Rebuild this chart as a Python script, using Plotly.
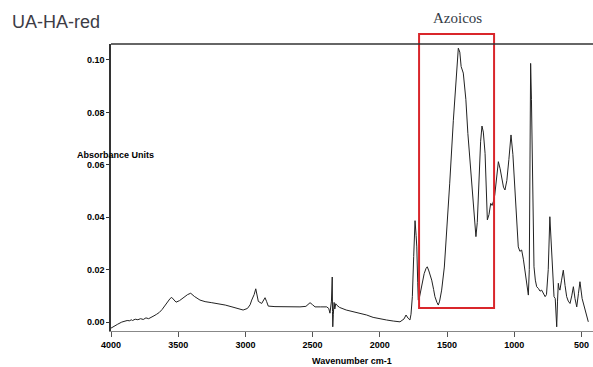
import plotly.graph_objects as go

wavenumber = [4000, 3980, 3950, 3920, 3900, 3880, 3860, 3850, 3840, 3820, 3800, 3780, 3760, 3740, 3720, 3700,
              3680, 3660, 3640, 3620, 3600, 3580, 3560, 3548, 3530, 3516, 3490, 3460, 3430, 3407, 3380, 3338,
              3300, 3250, 3214, 3150, 3100, 3050, 3017, 2985, 2965, 2953, 2935, 2923, 2912, 2904, 2879, 2866,
              2854, 2842, 2830, 2780, 2700, 2650, 2594, 2550, 2519, 2500, 2482, 2440, 2395, 2380, 2371, 2360,
              2354, 2352, 2350, 2346, 2340, 2335, 2328, 2321, 2300, 2250, 2200, 2150, 2098, 2050, 2000, 1950,
              1900, 1870, 1850, 1820, 1805, 1790, 1776, 1768, 1758, 1748, 1738, 1730, 1725, 1718, 1714, 1705,
              1689, 1670, 1656, 1647, 1635, 1614, 1600, 1590, 1575, 1565, 1555, 1540, 1520, 1502, 1480, 1453,
              1435, 1422, 1416, 1405, 1395, 1379, 1360, 1345, 1329, 1310, 1295, 1285, 1275, 1262, 1250, 1240,
              1230, 1217, 1208, 1200, 1188, 1175, 1165, 1155, 1145, 1138, 1128, 1118, 1105, 1093, 1080, 1069,
              1055, 1040, 1024, 1010, 994, 982, 970, 958, 945, 932, 920, 905, 895, 888, 882, 878, 872, 866,
              860, 853, 843, 833, 820, 808, 796, 784, 770, 760, 747, 735, 725, 717, 712, 704, 695, 684, 678,
              672, 667, 660, 648, 635, 622, 610, 598, 585, 572, 560, 548, 535, 522, 511, 495, 474, 462, 449,
              435, 416]
absorbance = [-0.0023, -0.0016, -0.0008, 0.0000, 0.0003, 0.0006, 0.0005, 0.0009, 0.0006, 0.0011, 0.0009,
              0.0013, 0.0010, 0.0016, 0.0013, 0.0020, 0.0024, 0.0030, 0.0037, 0.0048, 0.0063, 0.0080, 0.0090,
              0.0094, 0.0084, 0.0076, 0.0082, 0.0095, 0.0105, 0.0110, 0.0098, 0.0084, 0.0078, 0.0074, 0.0071,
              0.0065, 0.0058, 0.0051, 0.0046, 0.0052, 0.0066, 0.0084, 0.0105, 0.0127, 0.0102, 0.0079, 0.0071,
              0.0080, 0.0093, 0.0078, 0.0061, 0.0059, 0.0058, 0.0058, 0.0058, 0.0060, 0.0074, 0.0066, 0.0058,
              0.0058, 0.0058, 0.0052, 0.0034, 0.0080, 0.0172, 0.0040, -0.0018, 0.0030, 0.0075, 0.0050, 0.0070,
              0.0065, 0.0056, 0.0046, 0.0040, 0.0032, 0.0027, 0.0018, 0.0012, 0.0008, 0.0004, 0.0002, 0.0001,
              0.0012, 0.0027, 0.0015, 0.0008, 0.0030, 0.0097, 0.0250, 0.0387, 0.0330, 0.0287, 0.0150, 0.0084,
              0.0095, 0.0135, 0.0185, 0.0205, 0.0211, 0.0195, 0.0160, 0.0125, 0.0097, 0.0075, 0.0065, 0.0080,
              0.0122, 0.0210, 0.0338, 0.0530, 0.0770, 0.0920, 0.1010, 0.1045, 0.1030, 0.0975, 0.0950, 0.0850,
              0.0720, 0.0606, 0.0480, 0.0380, 0.0326, 0.0380, 0.0555, 0.0690, 0.0748, 0.0725, 0.0644, 0.0520,
              0.0390, 0.0410, 0.0453, 0.0445, 0.0460, 0.0485, 0.0516, 0.0580, 0.0612, 0.0585, 0.0542, 0.0515,
              0.0504, 0.0540, 0.0620, 0.0714, 0.0640, 0.0491, 0.0380, 0.0287, 0.0270, 0.0275, 0.0240, 0.0198,
              0.0140, 0.0103, 0.0200, 0.0600, 0.0987, 0.0850, 0.0644, 0.0400, 0.0211, 0.0160, 0.0135, 0.0128,
              0.0118, 0.0122, 0.0110, 0.0097, 0.0105, 0.0200, 0.0402, 0.0300, 0.0186, 0.0130, 0.0097, 0.0090,
              -0.0018, 0.0080, 0.0148, 0.0130, 0.0122, 0.0160, 0.0198, 0.0140, 0.0097, 0.0080, 0.0071, 0.0100,
              0.0135, 0.0090, 0.0058, 0.0110, 0.0154, 0.0090, 0.0046, 0.0020, 0.0001]

x_ticks = [4000, 3500, 3000, 2500, 2000, 1500, 1000, 500]
y_ticks = [0.00, 0.02, 0.04, 0.06, 0.08, 0.10]
y_tick_labels = ["0.00", "0.02", "0.04", "0.06", "0.08", "0.10"]
box_wavenumbers = [1708, 1150]

fig = go.Figure()
fig.add_trace(go.Scatter(x=wavenumber, y=absorbance, mode="lines",
                         line=dict(color="#222222", width=1), showlegend=False))

fig.add_shape(type="rect", xref="x", yref="paper",
              x0=box_wavenumbers[0], x1=box_wavenumbers[1], y0=0.08, y1=1.035,
              line=dict(color="#d9262b", width=2))

fig.add_annotation(text="Azoicos", xref="paper", yref="paper", x=(457 - 111) / 482, y=(331 - 18) / 287,
                   showarrow=False, font=dict(family="Liberation Serif, DejaVu Serif, serif", size=15, color="#333a45"),
                   xanchor="center", yanchor="middle")
fig.add_annotation(text="UA-HA-red", xref="paper", yref="paper", x=-101 / 482, y=(331 - 22) / 287,
                   showarrow=False, font=dict(family="Liberation Sans Narrow, Liberation Sans, Arial", size=18, color="#3c3c46"),
                   xanchor="left", yanchor="middle")
fig.add_annotation(text="Absorbance Units", xref="paper", yref="paper", x=(115 - 111) / 482, y=(331 - 155) / 287,
                   showarrow=False, font=dict(family="Liberation Sans, Arial", size=9, color="#000", weight="bold"),
                   xanchor="center", yanchor="middle")
fig.add_annotation(text="Wavenumber cm-1", xref="paper", yref="paper", x=(352 - 111) / 482, y=(331 - 361) / 287,
                   showarrow=False, font=dict(family="Liberation Sans, Arial", size=9, color="#000", weight="bold"),
                   xanchor="center", yanchor="middle")
# top frame line
fig.add_shape(type="line", xref="paper", yref="paper", x0=0, x1=1, y0=1, y1=1,
              line=dict(color="#333", width=1.5))

fig.update_layout(
    width=593, height=367,
    margin=dict(l=111, r=0, t=44, b=36),
    paper_bgcolor="white", plot_bgcolor="white",
    xaxis=dict(range=[4000, 414], tickvals=x_ticks, ticks="outside", ticklen=5, tickcolor="#555",
               showline=True, linecolor="#888", linewidth=1, showgrid=False, zeroline=False,
               tickfont=dict(family="Liberation Sans, Arial", size=9, color="#000", weight="bold")),
    yaxis=dict(range=[-0.0034, 0.1061], tickvals=y_ticks, ticktext=y_tick_labels, ticks="outside",
               ticklen=3, tickcolor="#333", showline=True, linecolor="#333", linewidth=1.5,
               showgrid=False, zeroline=False,
               tickfont=dict(family="Liberation Sans, Arial", size=9, color="#000", weight="bold")),
)

fig.write_html("out.html")
